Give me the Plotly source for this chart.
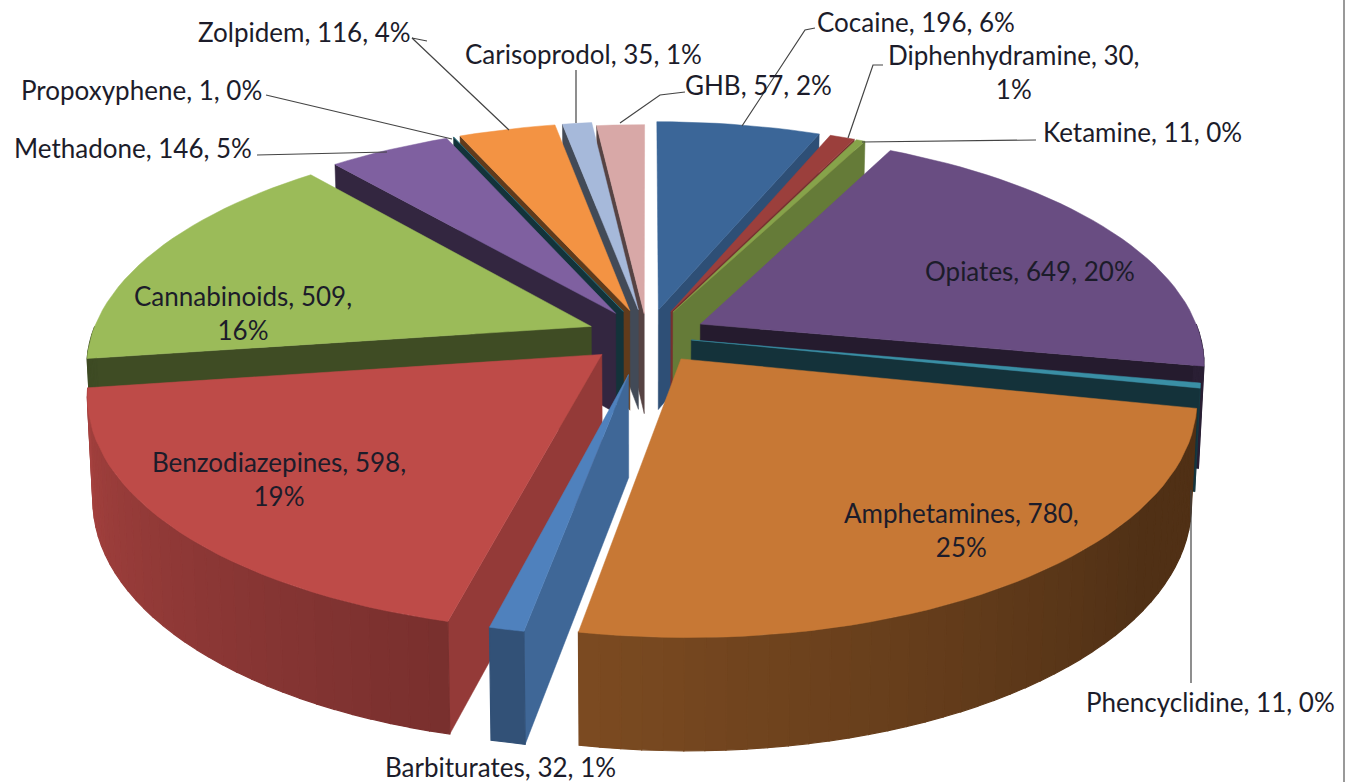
import math
import plotly.graph_objects as go

# ---- data ----
names = ["Cocaine", "Diphenhydramine", "Ketamine", "Opiates", "Phencyclidine", "Amphetamines",
         "Barbiturates", "Benzodiazepines", "Cannabinoids", "Methadone", "Propoxyphene",
         "Zolpidem", "Carisoprodol", "GHB"]
values = [196, 30, 11, 649, 11, 780, 32, 598, 509, 146, 1, 116, 35, 57]
colors = ["#3B6698", "#9B3F3C", "#86A34A", "#694D82", "#3A8FA5", "#C77835", "#4F81BD",
          "#BE4B48", "#9BBB59", "#7F60A0", "#2F7F90", "#F39343", "#A6B9DA", "#D8A8A7"]
explode = [0.12, 0.12, 0.12, 0.12, 0.09, 0.12, 0.17, 0.12, 0.12, 0.12, 0.12, 0.12, 0.12, 0.10]
radius = [1, 1, 1, 1, 1, 1, 0.93, 1, 1, 1, 1, 1, 1, 1]

# label anchor (centre of text block) and where each label breaks
label_pos = {
    "Cocaine": (916, 22), "Diphenhydramine": (1014, 72), "Ketamine": (1142, 132),
    "Opiates": (1030, 271), "Phencyclidine": (1210, 702), "Amphetamines": (961, 530),
    "Barbiturates": (500, 767), "Benzodiazepines": (279, 479), "Cannabinoids": (243, 313),
    "Methadone": (133, 148), "Propoxyphene": (141, 90), "Zolpidem": (304, 32),
    "Carisoprodol": (583, 54), "GHB": (758, 85),
}
wrapped = {"Diphenhydramine", "Amphetamines", "Benzodiazepines", "Cannabinoids"}
leaders = [
    [(815, 28), (805, 30), (742, 126)],
    [(883, 65), (873, 65), (848, 138)],
    [(1036, 140), (862, 142)],
    [(1191, 683), (1191, 490)],
    [(685, 92), (660, 95), (620, 123)],
    [(576, 70), (576, 123)],
    [(427, 41), (412, 38), (509, 130)],
    [(266, 95), (452, 139)],
    [(257, 155), (387, 152)],
]

# ---- 3D projection parameters ----
CX, CY, RX, RY, K, DEPTH = 647, 336, 500, 226, 0.16, 101
total = sum(values)


def project(u, v, z=0.0):
    s = 1 / (1 + K * v)
    return (CX + RX * u * s * (1 - 0.01 * z), CY - RY * v * s + z * DEPTH * (1 - 0.11 * v))


def shade(hex_color, f):
    r, g, b = (int(hex_color[i:i + 2], 16) for i in (1, 3, 5))
    return f"rgb({r * f:.0f},{g * f:.0f},{b * f:.0f})"


def rim_shade(t):
    if t <= 125:
        return 0.40
    if t <= 190:
        return 0.40 + 0.22 * (t - 125) / 65
    if t >= 262:
        return 0.40
    return 0.62 + 0.28 * (t - 190) / 80


def wall_shade(t):
    if t <= 180:
        return max(0.35, 0.9 - 0.0055 * t)
    return max(0.40, 0.8 - 0.0055 * (t - 190))


fig = go.Figure()


def poly(points, color, width=0.5):
    xs = [p[0] for p in points] + [points[0][0]]
    ys = [p[1] for p in points] + [points[0][1]]
    fig.add_trace(go.Scatter(x=xs, y=ys, mode="lines", fill="toself", fillcolor=color,
                             line=dict(color=color, width=width), hoverinfo="skip", showlegend=False))


slices = []
acc = 0
for n, val, col, e, rad in zip(names, values, colors, explode, radius):
    t0 = acc / total * 360
    acc += val
    t1 = acc / total * 360
    slices.append((n, t0, t1, col, e, rad))

# paint from the back of the pie to the front
slices.sort(key=lambda s: math.cos(math.radians((s[1] + s[2]) / 2)), reverse=True)

for n, t0, t1, col, e, rad in slices:
    tm = math.radians((t0 + t1) / 2)
    ax, av = e * math.sin(tm), e * math.cos(tm)

    def P(t, z=0.0):
        a = math.radians(t)
        return project(ax + rad * math.sin(a), av + rad * math.cos(a), z)

    apex_top, apex_bot = project(ax, av, 0), project(ax, av, 1)
    if t0 > 180:
        poly([apex_top, P(t0), P(t0, z=1), apex_bot], shade(col, wall_shade(t0)))
    if t1 < 180:
        poly([apex_top, P(t1), P(t1, z=1), apex_bot], shade(col, wall_shade(t1)))
    lo, hi = max(t0, 90), min(t1, 270)
    if hi > lo:
        steps = max(1, int((hi - lo) / 2))
        for i in range(steps):
            a, b = lo + (hi - lo) * i / steps, lo + (hi - lo) * (i + 1) / steps
            poly([P(a), P(b), P(b, z=1), P(a, z=1)], shade(col, rim_shade((a + b) / 2)), width=1.2)
    arc_steps = max(2, int((t1 - t0) / 2))
    poly([apex_top] + [P(t0 + (t1 - t0) * i / arc_steps) for i in range(arc_steps + 1)], col)

for line in leaders:
    fig.add_trace(go.Scatter(x=[p[0] for p in line], y=[p[1] for p in line], mode="lines",
                             line=dict(color="#444444", width=1.2), hoverinfo="skip", showlegend=False))

for n, val in zip(names, values):
    pct = round(val / total * 100)
    text = f"{n}, {val},<br>{pct}%" if n in wrapped else f"{n}, {val}, {pct}%"
    x, y = label_pos[n]
    fig.add_annotation(x=x, y=y, text=text, showarrow=False, xanchor="center", yanchor="middle",
                       font=dict(family="Lato", size=26, color="#1c1c2a"))

fig.add_shape(type="line", x0=1344, x1=1344, y0=0, y1=782, line=dict(color="#999999", width=2))

fig.update_layout(width=1351, height=782, margin=dict(l=0, r=0, t=0, b=0),
                  paper_bgcolor="white", plot_bgcolor="white", showlegend=False,
                  xaxis=dict(range=[0, 1351], visible=False, fixedrange=True),
                  yaxis=dict(range=[782, 0], visible=False, fixedrange=True))

fig.write_html("out.html", config={"displayModeBar": False},
               post_script="document.body.style.margin='0';document.body.style.overflow='hidden';")
